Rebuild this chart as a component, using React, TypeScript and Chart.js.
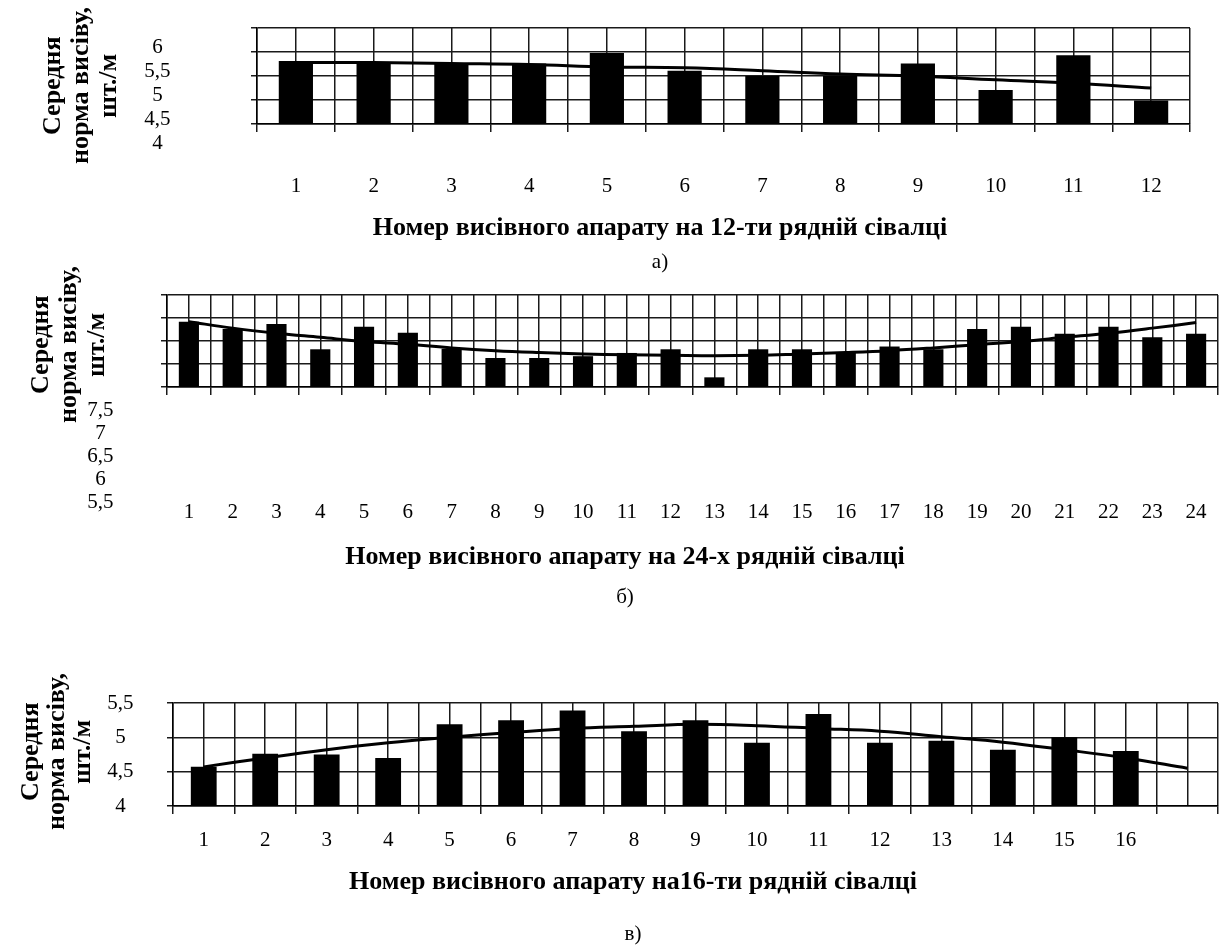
import React, { useEffect, useRef } from 'react';
import { Chart, registerables } from 'chart.js';

Chart.register(...registerables);

const SERIF = '"Liberation Serif", "Times New Roman", serif';
const GRID = '#1a1a1a';

// ---------- Panel а) ----------
const categoriesA = ['1', '2', '3', '4', '5', '6', '7', '8', '9', '10', '11', '12'];
const barsA = [5.31, 5.28, 5.26, 5.26, 5.48, 5.11, 5.0, 5.0, 5.26, 4.71, 5.43, 4.49];
const trendA = [5.28, 5.28, 5.26, 5.24, 5.19, 5.17, 5.11, 5.04, 5.0, 4.92, 4.85, 4.75];
const yTickLabelsA = ['4', '4,5', '5', '5,5', '6'];
const xTitleA = 'Номер висівного апарату на 12-ти рядній сівалці';
const captionA = 'а)';

// ---------- Panel б) ----------
const categoriesB = ['1', '2', '3', '4', '5', '6', '7', '8', '9', '10', '11', '12', '13', '14', '15', '16', '17', '18', '19', '20', '21', '22', '23', '24'];
const barsB = [6.92, 6.76, 6.87, 6.32, 6.81, 6.68, 6.33, 6.13, 6.13, 6.17, 6.24, 6.32, 5.71, 6.32, 6.32, 6.24, 6.38, 6.32, 6.76, 6.81, 6.66, 6.81, 6.58, 6.66];
const trendB = [6.92, 6.78, 6.67, 6.58, 6.49, 6.43, 6.35, 6.29, 6.25, 6.22, 6.2, 6.19, 6.18, 6.19, 6.22, 6.25, 6.29, 6.35, 6.42, 6.49, 6.58, 6.67, 6.78, 6.9];
const yTickLabelsB = ['5,5', '6', '6,5', '7', '7,5'];
const xTitleB = 'Номер висівного апарату на 24-х рядній сівалці';
const captionB = 'б)';

// ---------- Panel в) ----------
const categoriesC = ['1', '2', '3', '4', '5', '6', '7', '8', '9', '10', '11', '12', '13', '14', '15', '16', ''];
const barsC = [4.57, 4.76, 4.75, 4.7, 5.19, 5.25, 5.39, 5.09, 5.25, 4.92, 5.34, 4.92, 4.95, 4.82, 5.0, 4.8];
const trendC = [4.57, 4.7, 4.82, 4.92, 5.0, 5.07, 5.13, 5.16, 5.19, 5.17, 5.13, 5.09, 5.01, 4.93, 4.82, 4.7, 4.55];
const yTickLabelsC = ['4', '4,5', '5', '5,5'];
const xTitleC = 'Номер висівного апарату на16-ти рядній сівалці';
const captionC = 'в)';

const yTitleLines = ['Середня', 'норма висіву,', 'шт./м'];

interface PanelSpec {
  top: number;
  height: number;
  categories: string[];
  bars: number[];
  trend: number[];
  yMin: number;
  yMax: number;
  yTickLabels: string[];
  xTitle: string;
  caption: string;
  padTop: number;
  padBottom: number;
  padLeft: number;
  padRight: number;
  yAxisW: number;
  yLabelPad: number;
  yLabelOffset: number;
  xAxisH: number;
  xLabelPad: number;
  subGap: number;
  barPct: number;
  yTitleLeft: number;
  yTitleCenter: number;
  yTitleLine: number;
}

const panels: PanelSpec[] = [
  {
    top: 0, height: 285,
    categories: categoriesA, bars: barsA, trend: trendA,
    yMin: 4, yMax: 6, yTickLabels: yTickLabelsA,
    xTitle: xTitleA, caption: captionA,
    padTop: 28, padBottom: 10.4, padLeft: 130, padRight: 40,
    yAxisW: 127, yLabelPad: 80.5, yLabelOffset: 19,
    xAxisH: 88.4, xLabelPad: 41.4, subGap: 5.8, barPct: 0.88,
    yTitleLeft: 38, yTitleCenter: 86, yTitleLine: 28,
  },
  {
    top: 250, height: 370,
    categories: categoriesB, bars: barsB, trend: trendB,
    yMin: 5.5, yMax: 7.5, yTickLabels: yTickLabelsB,
    xTitle: xTitleB, caption: captionB,
    padTop: 45, padBottom: 10.4, padLeft: 32, padRight: 12,
    yAxisW: 135, yLabelPad: 47.5, yLabelOffset: 115,
    xAxisH: 154.4, xLabelPad: 104.4, subGap: 11.8, barPct: 0.92,
    yTitleLeft: 26, yTitleCenter: 345, yTitleLine: 28,
  },
  {
    top: 650, height: 302,
    categories: categoriesC, bars: barsC, trend: trendC,
    yMin: 4, yMax: 5.5, yTickLabels: yTickLabelsC,
    xTitle: xTitleC, caption: captionC,
    padTop: 53, padBottom: 5.4, padLeft: 48, padRight: 12,
    yAxisW: 125, yLabelPad: 33.5, yLabelOffset: 0,
    xAxisH: 60.4, xLabelPad: 13.4, subGap: 23.8, barPct: 0.84,
    yTitleLeft: 17, yTitleCenter: 752, yTitleLine: 26,
  },
];

function Panel({ spec }: { spec: PanelSpec }) {
  const ref = useRef<HTMLCanvasElement>(null);

  useEffect(() => {
    const canvas = ref.current;
    if (!canvas) return;
    const n = spec.categories.length;
    const chart = new Chart(canvas, {
      type: 'bar',
      data: {
        datasets: [
          {
            type: 'line',
            data: spec.trend.map((y, i) => ({ x: i + 1, y })),
            borderColor: '#000',
            borderWidth: 3,
            pointRadius: 0,
            tension: 0.4,
            fill: false,
            order: 0,
            clip: 0,
          } as any,
          {
            type: 'bar',
            data: spec.bars.map((y, i) => ({ x: i + 1, y })),
            backgroundColor: '#000',
            borderWidth: 0,
            barPercentage: spec.barPct,
            categoryPercentage: 1,
            base: spec.yMin,
            order: 1,
            clip: 0,
          } as any,
        ],
      },
      options: {
        animation: false,
        responsive: false,
        devicePixelRatio: 1,
        events: [],
        layout: {
          padding: { top: spec.padTop, bottom: spec.padBottom, left: spec.padLeft, right: spec.padRight },
        },
        plugins: {
          legend: { display: false },
          tooltip: { enabled: false },
          subtitle: {
            display: true,
            text: spec.xTitle,
            position: 'bottom',
            color: '#000',
            font: { family: SERIF, size: 26, weight: 'bold', lineHeight: 1.2 },
            padding: { top: 0, bottom: spec.subGap },
          },
          title: {
            display: true,
            text: spec.caption,
            position: 'bottom',
            color: '#000',
            font: { family: SERIF, size: 21, weight: 'normal', lineHeight: 1.2 },
            padding: { top: 0, bottom: 0 },
          },
        },
        scales: {
          x: {
            type: 'linear',
            min: 0.5,
            max: n + 0.5,
            offset: false,
            grid: {
              offset: false,
              color: GRID,
              lineWidth: 1.5,
              tickLength: 8,
              tickWidth: 1.5,
              tickColor: (ctx: any) =>
                ctx.tick && Number.isInteger(ctx.tick.value) ? 'rgba(0,0,0,0)' : GRID,
            },
            border: { color: '#000', width: 1.5 },
            ticks: {
              stepSize: 0.5,
              autoSkip: false,
              maxRotation: 0,
              minRotation: 0,
              padding: spec.xLabelPad,
              color: '#000',
              font: { family: SERIF, size: 21 },
              callback: (v: any) => {
                const num = Number(v);
                return Number.isInteger(num) ? spec.categories[num - 1] ?? '' : '';
              },
            },
            afterFit: (s: any) => {
              s.height = spec.xAxisH;
              s.paddingLeft = 0;
              s.paddingRight = 0;
            },
          },
          y: {
            min: spec.yMin,
            max: spec.yMax,
            beginAtZero: false,
            grid: { color: GRID, lineWidth: 1.5, tickLength: 6, tickColor: GRID, tickWidth: 1.5 },
            border: { color: '#000', width: 1.5 },
            ticks: {
              stepSize: 0.5,
              autoSkip: false,
              padding: spec.yLabelPad,
              labelOffset: spec.yLabelOffset,
              crossAlign: 'center',
              color: '#000',
              font: { family: SERIF, size: 21 },
              callback: (v: any) =>
                spec.yTickLabels[Math.round((Number(v) - spec.yMin) / 0.5)] ?? '',
            },
            afterFit: (s: any) => {
              s.width = spec.yAxisW;
              s.paddingTop = 0;
              s.paddingBottom = 0;
            },
          },
        },
      } as any,
    });
    return () => chart.destroy();
  }, [spec]);

  return (
    <>
      <canvas
        ref={ref}
        width={1230}
        height={spec.height}
        style={{ position: 'absolute', left: 0, top: spec.top, width: 1230, height: spec.height }}
      />
      <div
        style={{
          position: 'absolute',
          left: spec.yTitleLeft,
          top: spec.yTitleCenter - 95,
          height: 190,
          writingMode: 'vertical-rl',
          transform: 'rotate(180deg)',
          textAlign: 'center',
          fontFamily: SERIF,
          fontWeight: 'bold',
          fontSize: 26,
          lineHeight: spec.yTitleLine + 'px',
          color: '#000',
          whiteSpace: 'nowrap',
        }}
      >
        {yTitleLines.map((l, i) => (
          <div key={i}>{l}</div>
        ))}
      </div>
    </>
  );
}

export default function App() {
  return (
    <div
      style={{
        position: 'absolute',
        left: 0,
        top: 0,
        width: 1230,
        height: 952,
        background: '#fff',
        overflow: 'hidden',
      }}
    >
      {panels.map((p, i) => (
        <Panel key={i} spec={p} />
      ))}
    </div>
  );
}
